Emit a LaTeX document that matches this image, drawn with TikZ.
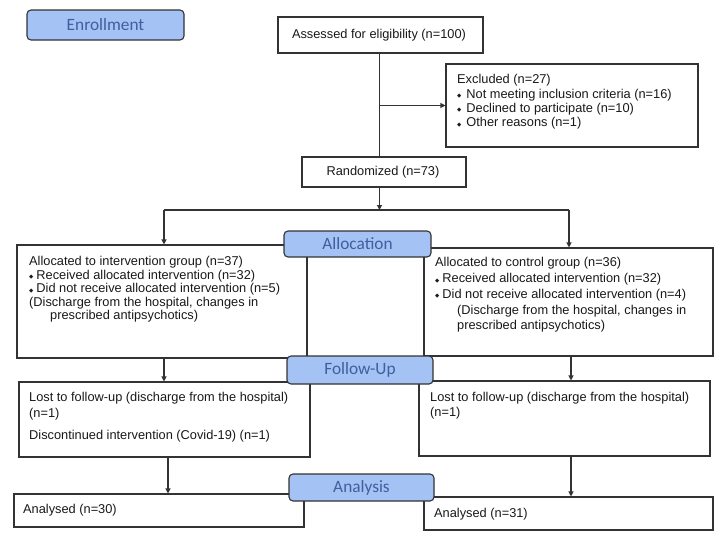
\documentclass[tikz,border=0pt]{standalone}
\usepackage{fontspec}
\setmainfont{Liberation Sans}
\newfontfamily\labfont{Carlito}
\newfontfamily\symfont{DejaVu Sans}
\usetikzlibrary{arrows.meta}
\definecolor{labfill}{HTML}{A4C2F4}
\definecolor{labtext}{HTML}{3F5F9F}
\definecolor{edgec}{HTML}{333333}
\newcommand{\bul}{\raisebox{0.6pt}{\symfont\fontsize{5.5}{5.5}\selectfont ◆}}
\begin{document}
\begin{tikzpicture}[x=1pt,y=-1pt,
 box/.style={draw=edgec, line width=1.1pt, fill=white, inner sep=0},
 lab/.style={draw=edgec, line width=1.1pt, fill=labfill, rounded corners=4pt, inner sep=0, font=\labfont\fontsize{17.3}{19}\selectfont, text=labtext},
 txt/.style={anchor=north west, inner sep=0, align=left, font=\fontsize{12.8}{14.3}\selectfont, text=black!90},
 ctxt/.style={inner sep=0, font=\fontsize{12.8}{14.3}\selectfont, text=black!90},
 arr/.style={draw=edgec, line width=1.1pt, -{Triangle[length=5pt,width=5pt]}},
 ln/.style={draw=edgec, line width=1.1pt}]
\useasboundingbox (0,0) rectangle (726,539);
% boxes
\node[box, minimum width=205pt, minimum height=36pt] (assess) at (380.5,35) {};
\node[box, minimum width=252pt, minimum height=83pt] (excl) at (572,105.5) {};
\node[box, minimum width=164pt, minimum height=30pt] (rand) at (384,172) {};
\node[box, minimum width=290pt, minimum height=113pt] (la) at (162,301.5) {};
\node[box, minimum width=289pt, minimum height=108pt] (ra) at (568.5,302) {};
\node[box, minimum width=291pt, minimum height=75pt] (lf) at (164.5,419.5) {};
\node[box, minimum width=291pt, minimum height=75pt] (rf) at (564.5,418.5) {};
\node[box, minimum width=290pt, minimum height=33pt] (lan) at (159,510.5) {};
\node[box, minimum width=289pt, minimum height=33pt] (ran) at (568.5,513.5) {};
% texts
\node[ctxt] (tassess) at (379,35.5) {Assessed for eligibility (n=100)};
\node[ctxt] (trand) at (383,172.5) {Randomized (n=73)};
\node[txt] (texcl) at (457,74.5) {Excluded (n=27)\\
\bul\hspace{5pt}Not meeting inclusion criteria (n=16)\\
\bul\hspace{5pt}Declined to participate (n=10)\\
\bul\hspace{5pt}Other reasons (n=1)};
\node[txt, font=\fontsize{12.8}{13.4}\selectfont] (tla) at (29,256.5) {Allocated to intervention group (n=37)\\
\bul\hspace{3pt}Received allocated intervention (n=32)\\
\bul\hspace{3pt}Did not receive allocated intervention (n=5)\\
(Discharge from the hospital, changes in\\
\hspace{21pt}prescribed antipsychotics)};
\node[txt, font=\fontsize{12.8}{15.8}\selectfont] (tra) at (435,257.5) {Allocated to control group (n=36)\\
\bul\hspace{3pt}Received allocated intervention (n=32)\\
\bul\hspace{3pt}Did not receive allocated intervention (n=4)\\
\hspace{22pt}(Discharge from the hospital, changes in\\[-1pt]
\hspace{22pt}prescribed antipsychotics)};
\node[txt, font=\fontsize{12.8}{15.5}\selectfont] (tlf) at (29,392.5) {Lost to follow-up (discharge from the hospital)\\
(n=1)\\[7pt]
Discontinued intervention (Covid-19) (n=1)};
\node[txt, font=\fontsize{12.8}{15}\selectfont] (trf) at (430,392.5) {Lost to follow-up (discharge from the hospital)\\
(n=1)};
\node[txt] (tlan) at (23,504.5) {Analysed (n=30)};
\node[txt] (tran) at (434,508.5) {Analysed (n=31)};
% labels
\node[lab, minimum width=157pt, minimum height=30pt] (enroll) at (105.5,25) {Enrollment};
\node[lab, minimum width=147pt, minimum height=26pt] (alloclab) at (357.5,244) {Allocation};
\node[lab, minimum width=146pt, minimum height=28pt] (fulab) at (360,370) {Follow-Up};
\node[lab, minimum width=145pt, minimum height=27pt] (anlab) at (361.5,487.5) {Analysis};
% connectors
\coordinate (spine) at (379.5,0);
\coordinate (split) at (379.5,210);
\coordinate (lsplit) at (164,210);
\coordinate (rsplit) at (569,210);
\draw[ln] (assess.south -| spine) -- (rand.north -| spine);
\draw[arr] (spine |- excl.west) -- (excl.west);
\draw[arr] (rand.south -| spine) -- (split);
\draw[ln] (lsplit) -- (rsplit);
\draw[arr] (lsplit) -- (la.north -| lsplit);
\draw[arr] (rsplit) -- (ra.north -| rsplit);
\coordinate (lx) at (164,0);
\coordinate (rx) at (571,0);
\coordinate (lx2) at (168,0);
\draw[arr] (la.south -| lx) -- (lf.north -| lx);
\draw[arr] (ra.south -| rx) -- (rf.north -| rx);
\draw[arr] (lf.south -| lx2) -- (lan.north -| lx2);
\draw[arr] (rf.south -| rx) -- (ran.north -| rx);
\end{tikzpicture}
\end{document}
